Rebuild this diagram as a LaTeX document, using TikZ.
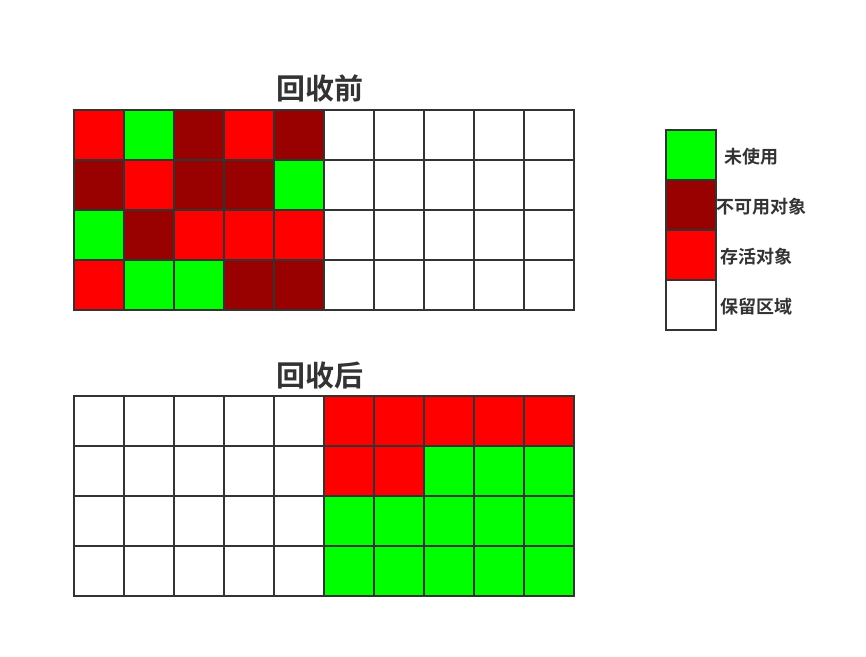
\documentclass[tikz,border=0pt]{standalone}
\usepackage{fontspec}
\newfontfamily\cjk{Noto Sans CJK SC Bold}
\definecolor{gR}{HTML}{FF0000}
\definecolor{gG}{HTML}{00FF00}
\definecolor{gD}{HTML}{990000}
\definecolor{gW}{HTML}{FFFFFF}
\definecolor{edge}{HTML}{333333}
\begin{document}
\begin{tikzpicture}[x=1pt,y=-1pt,
  cell/.style={draw=edge,line width=2pt,minimum width=50pt,minimum height=50pt,inner sep=0pt,outer sep=0pt},
  title/.style={font=\cjk\fontsize{29}{32}\selectfont,text=edge},
  lab/.style={font=\cjk\fontsize{18}{21}\selectfont,text=edge,anchor=west,inner sep=0pt}]
\useasboundingbox (0,0) rectangle (866,656);
% top grid
\foreach \row [count=\r from 0] in {{R,G,D,R,D,W,W,W,W,W},{D,R,D,D,G,W,W,W,W,W},{G,D,R,R,R,W,W,W,W,W},{R,G,G,D,D,W,W,W,W,W}}{
  \foreach \c [count=\k from 0] in \row {
    \node[cell,fill=g\c] (t-\r-\k) at (99+50*\k,135+50*\r) {};
  }
}
% bottom grid
\foreach \row [count=\r from 0] in {{W,W,W,W,W,R,R,R,R,R},{W,W,W,W,W,R,R,G,G,G},{W,W,W,W,W,G,G,G,G,G},{W,W,W,W,W,G,G,G,G,G}}{
  \foreach \c [count=\k from 0] in \row {
    \node[cell,fill=g\c] (b-\r-\k) at (99+50*\k,421+50*\r) {};
  }
}
\node[title] (ttop) at (320,88) {回收前};
\node[title] (tbot) at (320,376) {回收后};
% legend
\node[cell,fill=gG] (l0) at (691,155) {};
\node[cell,fill=gD] (l1) at (691,205) {};
\node[cell,fill=gR] (l2) at (691,255) {};
\node[cell,fill=gW] (l3) at (691,305) {};
\node[lab] (lt0) at (724,157) {未使用};
\node[lab] (lt1) at (716,207) {不可用对象};
\node[lab] (lt2) at (720,257) {存活对象};
\node[lab] (lt3) at (720,307) {保留区域};
\end{tikzpicture}
\end{document}
